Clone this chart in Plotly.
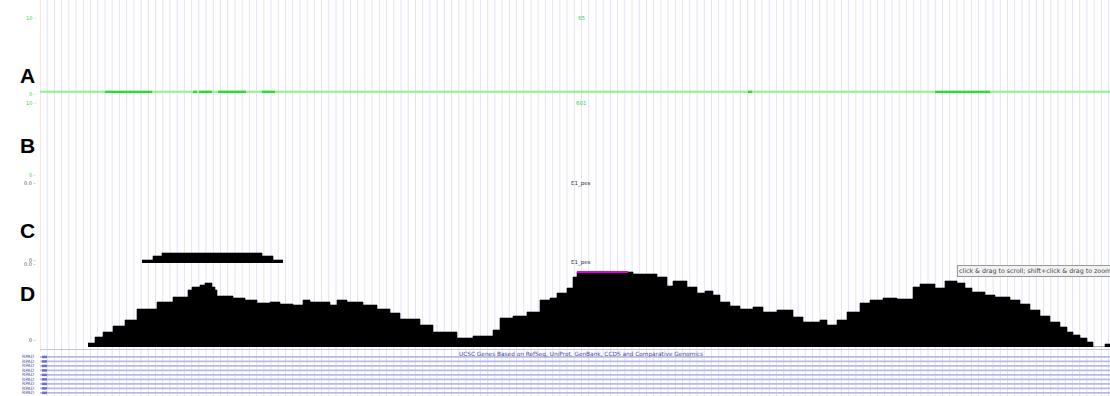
import plotly.graph_objects as go

W, H = 1110, 396

# ---- track data -------------------------------------------------------
# Track D: coverage histogram (bin start position, bin height)
d_start = [48, 55, 63, 73, 85, 97, 117, 133, 148, 152, 160, 165, 172, 175, 177,
           193, 205, 217, 230, 240, 253, 263, 270, 290, 297, 307, 323, 337, 350,
           360, 380, 393, 417, 433, 453, 460, 473, 487, 500, 510, 517, 527, 533,
           537, 593, 617, 627, 633, 647, 657, 665, 673, 680, 690, 700, 713, 723,
           737, 753, 763, 780, 787, 797, 807, 820, 830, 843, 857, 873, 880, 895,
           905, 917, 925, 932, 945, 955, 970, 980, 990, 1000, 1010, 1020, 1027,
           1033, 1040, 1047, 1053, 1065]
d_height = [4, 10, 15, 21, 27, 38, 45, 50, 57, 60, 62, 64, 60, 57, 51,
            49, 47, 44, 45, 43, 42, 47, 45, 42, 47, 45, 42, 38, 34,
            28, 22, 15, 9, 11, 17, 29, 31, 35, 47, 49, 54, 59, 70,
            75, 73, 70, 61, 66, 60, 54, 56, 52, 45, 41, 38, 40, 35,
            37, 30, 25, 27, 22, 27, 35, 44, 47, 49, 48, 60, 63, 59,
            66, 64, 59, 55, 52, 50, 47, 43, 37, 31, 25, 20, 15,
            12, 9, 5, 0, 3]
d_end = 1070

# Peak call drawn over track D (start, end, level)
peak_start, peak_end, peak_level = 537, 588, 75

# Track C: histogram
c_start = [102, 113, 122, 222, 233]
c_height = [3, 7, 10, 7, 3]
c_end = 243

# Track A: highlighted intervals on the zero line
a_seg_start = [65, 153, 159, 178, 222, 708, 895]
a_seg_end = [112, 157, 172, 206, 235, 712, 950]

# Gene track rows
gene_labels = ["RPAD"] * 9
gene_header = "UCSC Genes Based on RefSeq, UniProt, GenBank, CCDS and Comparative Genomics"

# Track names and y-axis labels
track_names = ["A", "B", "C", "D"]
track_name_y = [62, 145, 230, 307]
axis_label_text = ["10 -", "0 -", "10 -", "0 -", "0.0 -", "0 -", "0.0 -", "0 -"]
axis_label_y = [13, 89, 98, 175, 183, 259.5, 268.5, 345]
axis_label_color = ["#2fd62f"] * 4 + ["#555555"] * 4

center_labels = ["65", "601", "E1_pes", "E1_pes"]
center_label_y = [13, 98, 183, 268]
center_label_color = ["#2fd62f", "#2fd62f", "#333333", "#333333"]

GRID_STEP = 7.22
X_MAX = 1070


def py(px):
    """screen row -> paper fraction"""
    return 1 - px / H


fig = go.Figure()

# Track D coverage
fig.add_trace(go.Scatter(
    x=d_start + [d_end], y=d_height + [d_height[-1]],
    mode="lines", line=dict(shape="hv", color="black", width=0.6),
    fill="tozeroy", fillcolor="black", xaxis="x", yaxis="y",
    hoverinfo="skip", showlegend=False))

# peak call
fig.add_trace(go.Scatter(
    x=[peak_start, peak_end], y=[peak_level, peak_level],
    mode="lines", line=dict(color="#e000d8", width=2),
    xaxis="x", yaxis="y", hoverinfo="skip", showlegend=False))

# Track C
fig.add_trace(go.Scatter(
    x=c_start + [c_end], y=c_height + [c_height[-1]],
    mode="lines", line=dict(shape="hv", color="black", width=0.6),
    fill="tozeroy", fillcolor="black", xaxis="x", yaxis="y2",
    hoverinfo="skip", showlegend=False))

# Track A zero line
fig.add_trace(go.Scatter(
    x=[0, X_MAX], y=[0, 0], mode="lines",
    line=dict(color="#8af58a", width=2), xaxis="x", yaxis="y3",
    hoverinfo="skip", showlegend=False))
seg_x, seg_y = [], []
for s, e in zip(a_seg_start, a_seg_end):
    seg_x += [s, e, None]
    seg_y += [0, 0, None]
fig.add_trace(go.Scatter(
    x=seg_x, y=seg_y, mode="lines",
    line=dict(color="#2edc2e", width=2.4), xaxis="x", yaxis="y3",
    hoverinfo="skip", showlegend=False))

# Gene track rows
gx, gy, mx, my = [], [], [], []
for i in range(len(gene_labels)):
    gx += [0, X_MAX, None]
    gy += [i, i, None]
    mx += [2, 7, None]
    my += [i, i, None]
fig.add_trace(go.Scatter(
    x=gx, y=gy, mode="lines", line=dict(color="#b9b9e6", width=1.8),
    xaxis="x", yaxis="y5", hoverinfo="skip", showlegend=False))
fig.add_trace(go.Scatter(
    x=mx, y=my, mode="lines", line=dict(color="#7070c8", width=2.5),
    xaxis="x", yaxis="y5", hoverinfo="skip", showlegend=False))

shapes = []
# vertical browser grid
k = 1
while k * GRID_STEP < X_MAX:
    xg = k * GRID_STEP
    shapes.append(dict(type="line", xref="x", yref="paper", x0=xg, x1=xg,
                       y0=0, y1=1, layer="below",
                       line=dict(color="#e2e2fb", width=1)))
    k += 1
# left edge
shapes.append(dict(type="line", xref="x", yref="paper", x0=0, x1=0,
                   y0=py(352), y1=1, layer="below",
                   line=dict(color="#ffd0d0", width=1.2)))
# track D baseline rule
shapes.append(dict(type="line", xref="paper", yref="paper", x0=40 / W, x1=1,
                   y0=py(349.5), y1=py(349.5), layer="below",
                   line=dict(color="#c8c8d8", width=1)))

annotations = []
for name, yy in zip(track_names, track_name_y):
    annotations.append(dict(text=f"<b>{name}</b>", xref="paper", yref="paper",
                            x=18 / W, y=py(yy), showarrow=False,
                            font=dict(family="Liberation Sans", size=21, color="black")))
for t, yy, c in zip(axis_label_text, axis_label_y, axis_label_color):
    annotations.append(dict(text=t, xref="paper", yref="paper", x=38 / W, y=py(yy),
                            xanchor="right", showarrow=False,
                            font=dict(family="DejaVu Sans", size=5, color=c)))
for t, yy, c in zip(center_labels, center_label_y, center_label_color):
    annotations.append(dict(text=t, xref="paper", yref="paper", x=581 / W, y=py(yy),
                            showarrow=False,
                            font=dict(family="DejaVu Sans", size=5.5, color=c)))
for i, g in enumerate(gene_labels):
    annotations.append(dict(text=g, xref="paper", yref="y5", x=37 / W, y=i,
                            xanchor="right", showarrow=False,
                            font=dict(family="DejaVu Sans", size=4.5, color="#5050a8")))
annotations.append(dict(text=gene_header, xref="paper", yref="y5", x=581 / W, y=-0.55,
                        showarrow=False,
                        font=dict(family="DejaVu Sans", size=5.8, color="#4848a8")))
annotations.append(dict(text="click &amp; drag to scroll; shift+click &amp; drag to zoom",
                        xref="paper", yref="paper", x=957 / W, y=py(271),
                        xanchor="left", yanchor="middle", showarrow=False,
                        bgcolor="#f1f1f1", bordercolor="#9a9a9a", borderwidth=1,
                        borderpad=1,
                        font=dict(family="DejaVu Sans", size=6.3, color="#444444")))

hidden = dict(visible=False, showgrid=False, zeroline=False, fixedrange=True)
fig.update_layout(
    width=W, height=H, autosize=False,
    margin=dict(l=0, r=0, t=0, b=0, pad=0),
    paper_bgcolor="white", plot_bgcolor="rgba(0,0,0,0)",
    showlegend=False,
    xaxis=dict(domain=[40 / W, 1], range=[0, X_MAX], anchor="y", **hidden),
    yaxis=dict(domain=[py(347), py(268)], range=[0, 79], anchor="x", **hidden),
    yaxis2=dict(domain=[py(263), py(183)], range=[0, 80], anchor="x", **hidden),
    yaxis3=dict(domain=[py(95), py(13)], range=[-0.4, 10], anchor="x", **hidden),
    yaxis5=dict(domain=[0, py(352)], range=[8.7, -1.1], anchor="x", **hidden),
    shapes=shapes, annotations=annotations,
)

fig.write_html("out.html")
